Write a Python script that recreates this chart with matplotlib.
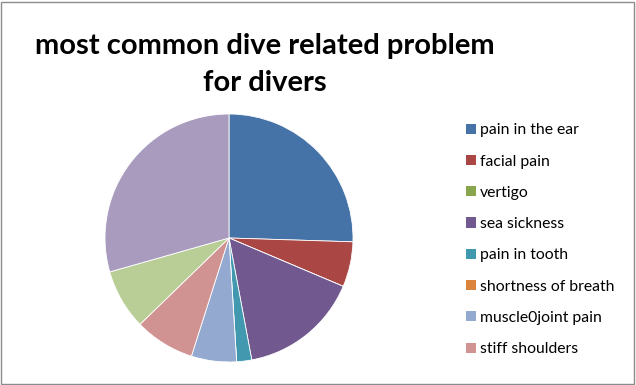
import matplotlib.pyplot as plt
from matplotlib.patches import Rectangle, Patch

labels = ["pain in the ear", "facial pain", "vertigo", "sea sickness", "pain in tooth",
          "shortness of breath", "muscle0joint pain", "stiff shoulders"]
values = [13, 3, 0, 8, 1, 0, 3, 4, 4, 15]
colors = ["#4572A7", "#AA4643", "#89A54E", "#71588F", "#4198AF",
          "#DB843D", "#93A9CF", "#D19392", "#B9CD96", "#A99BBD"]

plt.rcParams['font.family'] = ['Lato', 'DejaVu Sans']

fig = plt.figure(figsize=(6.36, 3.85), dpi=100)
W, H = 636, 385

# outer chart border
fig.patches.append(Rectangle((1 / W, 1 / H), 633 / W, 382 / H, transform=fig.transFigure,
                             fill=False, edgecolor="#8c8c8c", linewidth=1))

cx, cy, r = 229, 385 - 238, 124
ax = fig.add_axes([(cx - r) / W, (cy - r) / H, 2 * r / W, 2 * r / H])
ax.pie(values, colors=colors, startangle=90, counterclock=False,
       wedgeprops=dict(edgecolor="white", linewidth=0.6))
ax.set_xlim(-1, 1)
ax.set_ylim(-1, 1)
ax.set_aspect("equal")
ax.axis("off")

fig.text(265 / W, 1 - 46 / H, "most common dive related problem", ha="center", va="center",
         fontsize=21, fontweight="bold")
fig.text(265 / W, 1 - 83 / H, "for divers", ha="center", va="center",
         fontsize=21, fontweight="bold")

handles = [Patch(facecolor=c, edgecolor="none") for c in colors[:len(labels)]]
fig.legend(handles, labels, loc="upper left", bbox_to_anchor=(460 / W, 1 - 117 / H),
           frameon=False, fontsize=11.3, handlelength=0.62, handleheight=0.62,
           handletextpad=0.25, labelspacing=1.1, borderaxespad=0)

plt.savefig("out.png", dpi=100)
